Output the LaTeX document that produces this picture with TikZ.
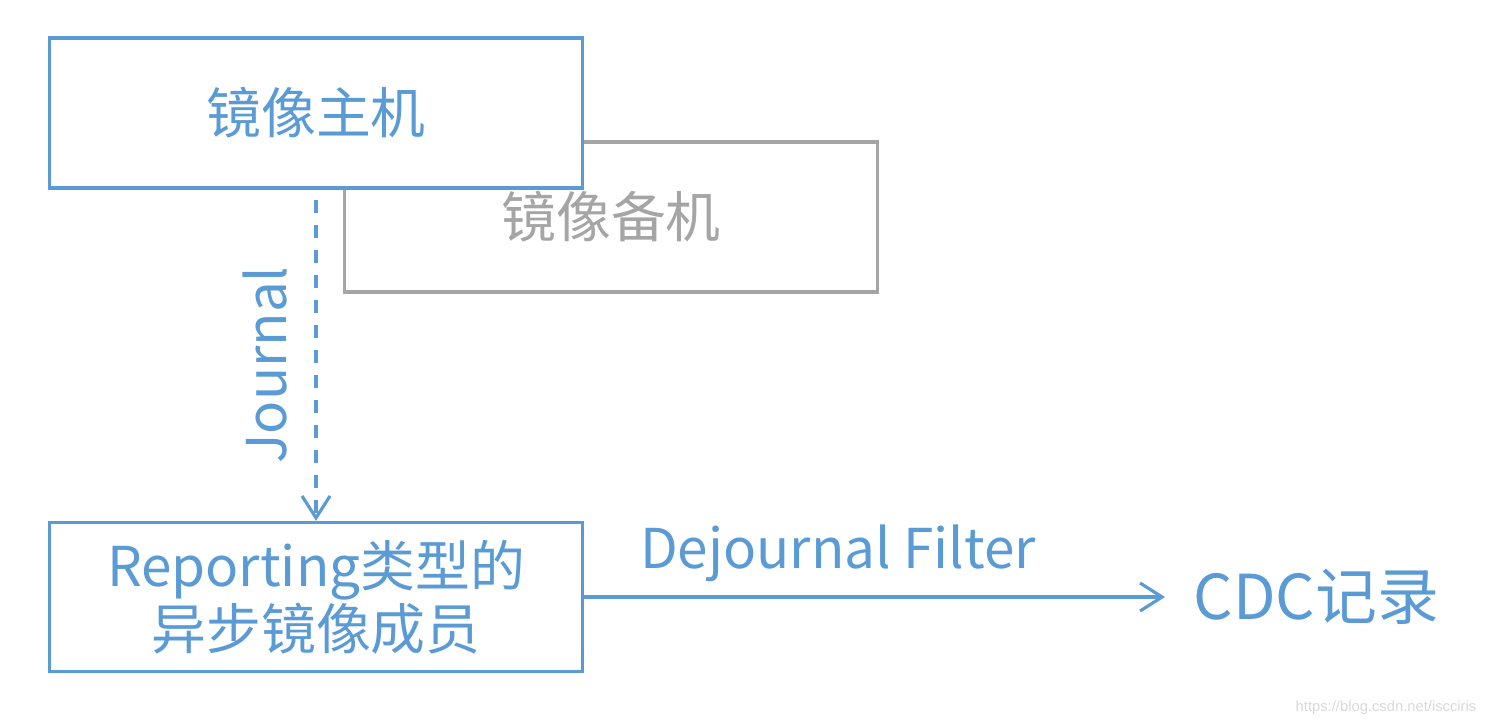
\documentclass[tikz,border=0pt]{standalone}
\usepackage{fontspec}
\setmainfont{Noto Sans CJK SC}
\newfontfamily\markfont{Liberation Sans}
\usetikzlibrary{arrows.meta}
\definecolor{mirrorblue}{HTML}{5B9BD5}
\definecolor{standbygray}{HTML}{A5A5A5}

\begin{document}
\begin{tikzpicture}[x=0.01cm, y=-0.01cm,
    box/.style={draw=mirrorblue, text=mirrorblue, line width=0.9pt, fill=white,
      minimum width=5.32cm, minimum height=1.5cm, inner sep=0pt, align=center},
    label/.style={text=mirrorblue, inner sep=0pt},
    flow/.style={draw=mirrorblue, line width=0.9pt, -{Straight Barb[length=0.22cm, width=0.28cm]}},
    bigfont/.style={font=\fontsize{15.6}{17.8}\selectfont}]
            \useasboundingbox (0,0) rectangle (1486,726);
            % standby first, the host covers it
            \node[box, draw=standbygray, text=standbygray, bigfont] (standby) at (611,217) {镜像备机};
            \node[box, bigfont] (host) at (316,113) {镜像主机};
            \node[box, bigfont, minimum height=1.49cm] (member) at (316,597) {Reporting类型的\\异步镜像成员};
            \node[label, font=\fontsize{17.6}{20}\selectfont, anchor=west] (cdc) at (1193,597) {CDC记录};
            \coordinate (journalstart) at (316,200);
            \draw[flow, dash pattern=on 0.13cm off 0.12cm] (journalstart) -- (member.north);
            \node[label, bigfont, rotate=90] (journal) at (265,365) {Journal};
            \draw[flow] (member.east) -- ([xshift=-0.28cm]member.east -| cdc.west);
            \node[label, bigfont] (filter) at (838,553) {Dejournal Filter};
            \node[text=black!15, inner sep=0pt, font=\markfont\fontsize{4.2}{5}\selectfont, anchor=east] (mark) at (1477,708) {https://blog.csdn.net/iscciris};
        \end{tikzpicture}
\end{document}
